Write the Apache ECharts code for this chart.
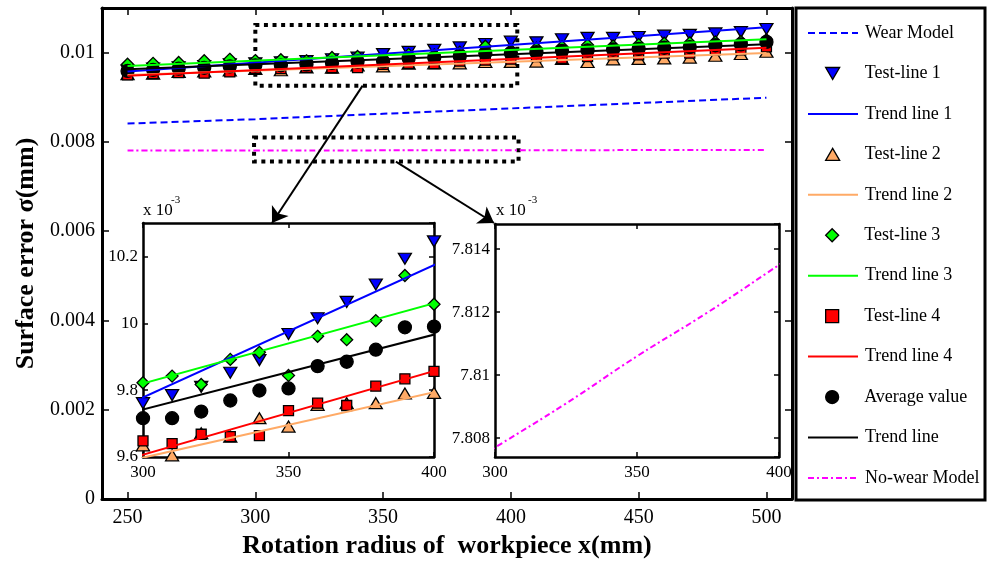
<!DOCTYPE html>
<html><head><meta charset="utf-8">
<script src="https://cdn.jsdelivr.net/npm/echarts@6/dist/echarts.min.js"></script>
<style>html,body{margin:0;padding:0;background:#fff}#c{width:987px;height:565px}</style>
</head><body><div id="c"></div>
<script>
// ---------- data (surface error in units of 1e-3 mm) ----------
const xValues = [250,260,270,280,290,300,310,320,330,340,350,360,370,380,390,400,410,420,430,440,450,460,470,480,490,500];
const test1 = [9.60,9.64,9.67,9.70,9.74,9.761,9.785,9.81,9.852,9.89,9.968,10.015,10.064,10.116,10.193,10.245,10.23,10.30,10.33,10.33,10.35,10.38,10.40,10.43,10.46,10.53];
const test2 = [9.52,9.53,9.57,9.58,9.60,9.635,9.605,9.671,9.661,9.716,9.691,9.756,9.761,9.761,9.790,9.792,9.80,9.86,9.79,9.85,9.86,9.87,9.89,9.93,9.97,10.02];
const test3 = [9.74,9.76,9.78,9.82,9.85,9.822,9.842,9.817,9.892,9.913,9.844,9.961,9.951,10.008,10.143,10.057,10.10,10.13,10.17,10.15,10.18,10.21,10.22,10.24,10.25,10.29];
const test4 = [9.50,9.53,9.55,9.54,9.57,9.648,9.640,9.668,9.661,9.664,9.739,9.761,9.754,9.812,9.834,9.856,9.91,9.87,9.91,9.95,9.95,9.99,9.99,10.06,10.06,10.13];
const average = [9.59,9.615,9.64,9.66,9.69,9.716,9.716,9.736,9.769,9.799,9.805,9.872,9.885,9.921,9.988,9.990,10.01,10.04,10.05,10.07,10.085,10.11,10.125,10.165,10.185,10.24];

const trendX = [250, 500];
const trend1 = [9.58, 10.57];
const trend2 = [9.50, 9.99];
const trend3 = [9.70, 10.30];
const trend4 = [9.482, 10.107];
const trendAvg = [9.63, 10.19];

const wearX = [250,300,350,400,450,500];
const wearModel = [8.41,8.51,8.63,8.75,8.87,8.99];

const noWearX = [250,275,300,325,350,375,400,425,450,475,500];
const noWearModel = [7.8050,7.8063,7.8077,7.8091,7.8106,7.8120,7.8135,7.8150,7.8165,7.8180,7.8196];

const legendNames = ['Wear Model','Test-line 1','Trend line 1','Test-line 2','Trend line 2','Test-line 3','Trend line 3','Test-line 4','Trend line 4','Average value','Trend line','No-wear Model'];
const markerNames = ['Test-line 1','Test-line 2','Test-line 3','Test-line 4','Average value'];
const xTitle = 'Rotation radius of  workpiece x(mm)';
const yTitle = 'Surface error \u03c3(mm)';

// ---------- styling ----------
const FONT = '"Liberation Serif","Times New Roman",serif';
const C_BLUE = '#0000ff', C_ORANGE = '#ffaa66', C_GREEN = '#00ff00', C_RED = '#ff0000', C_MAG = '#ff00ff';
const SYM_DOWN = 'path://M0,0L20,0L10,17Z';
const SYM_UP = 'path://M10,0L20,17L0,17Z';
const SYM_DIAMOND = 'path://M10,0L20,10L10,20L0,10Z';
const SYM_SQUARE = 'path://M0,0L10,0L10,10L0,10Z';

function pairs(xs, ys) { return xs.map((x, i) => [x, ys[i]]); }

function scatterS(name, data, symbol, size, color, g) {
  return { type: 'scatter', name, data, symbol, symbolSize: size, xAxisIndex: 2*g, yAxisIndex: 2*g,
    itemStyle: { color, borderColor: '#000', borderWidth: 1.3, opacity: 1 }, clip: true, silent: true, animation: false };
}
function lineS(name, data, color, type, g, smooth) {
  return { type: 'line', name, data, symbol: 'none', showSymbol: false, smooth: !!smooth, xAxisIndex: 2*g, yAxisIndex: 2*g,
    lineStyle: { color, width: 2, type: type || 'solid' }, itemStyle: { color }, clip: true, silent: true, animation: false };
}
function groupSeries(g) {
  return [
    scatterS('Test-line 1', pairs(xValues, test1), SYM_DOWN, [13, 11], C_BLUE, g),
    lineS('Trend line 1', pairs(trendX, trend1), C_BLUE, 'solid', g),
    scatterS('Test-line 2', pairs(xValues, test2), SYM_UP, [13, 11], C_ORANGE, g),
    lineS('Trend line 2', pairs(trendX, trend2), C_ORANGE, 'solid', g),
    scatterS('Test-line 3', pairs(xValues, test3), SYM_DIAMOND, [12, 12], C_GREEN, g),
    lineS('Trend line 3', pairs(trendX, trend3), C_GREEN, 'solid', g),
    scatterS('Test-line 4', pairs(xValues, test4), SYM_SQUARE, [10, 10], C_RED, g),
    lineS('Trend line 4', pairs(trendX, trend4), C_RED, 'solid', g),
    scatterS('Average value', pairs(xValues, average), 'circle', 13, '#000', g),
    lineS('Trend line', pairs(trendX, trendAvg), '#000', 'solid', g)
  ];
}

const wear = lineS('Wear Model', pairs(wearX, wearModel), C_BLUE, [7, 4], 0);
wear.markArea = {
  silent: true,
  itemStyle: { color: 'rgba(0,0,0,0)', borderColor: '#000', borderWidth: 4, borderType: [4, 4.6] },
  label: { show: false },
  data: [
    [{ coord: [300, 10.62] }, { coord: [402.5, 9.26] }],
    [{ coord: [299.5, 8.10] }, { coord: [403, 7.56] }]
  ]
};
wear.markLine = {
  silent: true, symbol: ['none', 'arrow'], symbolSize: 15,
  lineStyle: { color: '#000', width: 2, type: 'solid' }, label: { show: false },
  data: [
    [{ coord: [342, 9.26] }, { x: 272, y: 223 }],
    [{ coord: [355, 7.56] }, { x: 494, y: 223 }]
  ]
};

const series = [wear].concat(groupSeries(0)).concat([
  lineS('No-wear Model', pairs(noWearX, noWearModel), C_MAG, [6, 3, 2, 3], 0, true)
]).concat(groupSeries(1)).concat([
  lineS('No-wear Model', pairs(noWearX, noWearModel), C_MAG, [6, 3, 2, 3], 2, true)
]);

function xAx(grid, min, max, top, extra) {
  return Object.assign({
    type: 'value', gridIndex: grid, min, max, position: top ? 'top' : 'bottom',
    axisLine: { show: true, onZero: false, lineStyle: { color: '#000', width: grid === 0 ? 3 : 2.5 } },
    axisTick: { show: true, inside: true, length: grid === 0 ? 7 : 5, lineStyle: { color: '#000', width: 1.5 } },
    axisLabel: top ? { show: false } : { show: true, color: '#000', fontFamily: FONT, fontSize: grid === 0 ? 20 : 17, margin: grid === 0 ? 9 : 7, showMinLabel: grid !== 0, showMaxLabel: grid !== 0 },
    splitLine: { show: false }
  }, extra || {});
}
function yAx(grid, min, max, right, extra) {
  return Object.assign({
    type: 'value', gridIndex: grid, min, max, position: right ? 'right' : 'left',
    axisLine: { show: true, onZero: false, lineStyle: { color: '#000', width: grid === 0 ? 3 : 2.5 } },
    axisTick: { show: true, inside: true, length: grid === 0 ? 7 : 5, lineStyle: { color: '#000', width: 1.5 } },
    axisLabel: right ? { show: false } : { show: true, color: '#000', fontFamily: FONT, fontSize: grid === 0 ? 20 : 17, margin: grid === 0 ? 7 : 5, showMaxLabel: false, showMinLabel: grid !== 2 },
    splitLine: { show: false }
  }, extra || {});
}

const mainYFmt = v => v === 0 ? '0' : String(parseFloat((v / 1000).toFixed(4)));
const insetFmt1 = v => String(parseFloat(v.toFixed(1)));
const insetFmt2 = v => String(parseFloat(v.toFixed(3)));

const xAxis = [
  xAx(0, 240, 510, false, { name: xTitle, nameLocation: 'middle', nameGap: 30,
    nameTextStyle: { fontFamily: FONT, fontSize: 26, fontWeight: 'bold', color: '#000' } }),
  xAx(0, 240, 510, true),
  xAx(1, 300, 400, false, { interval: 50 }),
  xAx(1, 300, 400, true, { interval: 50 }),
  xAx(2, 300, 400, false, { interval: 50 }),
  xAx(2, 300, 400, true, { interval: 50 })
];

const yAxis = [
  yAx(0, 0, 11, false, { interval: 2, name: yTitle, nameLocation: 'middle', nameGap: 55,
    nameTextStyle: { fontFamily: FONT, fontSize: 26, fontWeight: 'bold', color: '#000' } }),
  yAx(0, 0, 11, true, { interval: 2 }),
  yAx(1, 9.6, 10.3, false, { interval: 0.2 }),
  yAx(1, 9.6, 10.3, true, { interval: 0.2 }),
  yAx(2, 7.8074, 7.8148, false, { splitNumber: 3 }),
  yAx(2, 7.8074, 7.8148, true, { splitNumber: 3 })
];
yAxis[0].axisLabel.formatter = mainYFmt;
yAxis[2].axisLabel.formatter = insetFmt1;
yAxis[4].axisLabel.formatter = insetFmt2;

const legends = legendNames.map((n, i) => {
  const isMarker = markerNames.indexOf(n) >= 0;
  return {
    data: [n], orient: 'vertical', left: isMarker ? 825 : 807, top: 33 + i * 40.45 - 9, padding: 0,
    itemWidth: isMarker ? 14 : 50, itemHeight: isMarker ? 13 : 14, selectedMode: false,
    itemStyle: isMarker ? { borderWidth: 1.3 } : { opacity: 0 },
    textStyle: { fontFamily: FONT, fontSize: 18, color: '#000', lineHeight: 18, padding: [0, 0, 0, isMarker ? 20 : 2] }
  };
});

const option = {
  backgroundColor: '#fff',
  animation: false,
  grid: [
    { left: 102, top: 8, width: 690, height: 491, containLabel: false },
    { left: 143, top: 223, width: 291, height: 234, containLabel: false },
    { left: 495, top: 224, width: 284, height: 233, containLabel: false }
  ],
  xAxis, yAxis,
  legend: legends,
  series,
  graphic: [
    { type: 'rect', shape: { x: 796, y: 8, width: 189, height: 492 }, style: { fill: 'none', stroke: '#000', lineWidth: 3 }, silent: true },
    { type: 'text', style: { text: 'x 10', x: 143, y: 219, verticalAlign: 'bottom', fontFamily: FONT, fontSize: 17, fill: '#000' }, silent: true },
    { type: 'text', style: { text: '-3', x: 171, y: 206, verticalAlign: 'bottom', fontFamily: FONT, fontSize: 11, fill: '#000' }, silent: true },
    { type: 'text', style: { text: 'x 10', x: 496, y: 219, verticalAlign: 'bottom', fontFamily: FONT, fontSize: 17, fill: '#000' }, silent: true },
    { type: 'text', style: { text: '-3', x: 528, y: 206, verticalAlign: 'bottom', fontFamily: FONT, fontSize: 11, fill: '#000' }, silent: true }
  ]
};

const chart = echarts.init(document.getElementById('c'));
chart.setOption(option);
</script>
</body></html>
